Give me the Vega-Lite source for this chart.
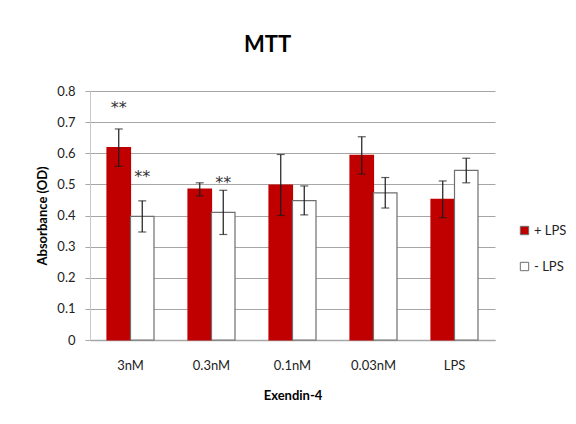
{
  "$schema": "https://vega.github.io/schema/vega-lite/v6.json",
  "autosize": {"type": "none"},
  "width": 405,
  "height": 249,
  "padding": {"left": 90, "top": 91, "right": 81, "bottom": 84},
  "background": "white",
  "config": {
    "font": "Lato",
    "view": {"stroke": null},
    "axis": {"labelFont": "Lato", "titleFont": "Lato", "labelColor": "#222", "titleColor": "#000"},
    "axisY": {
      "titleFontSize": 13,
      "titleFontWeight": "bold",
      "titlePadding": 7,
      "values": [0, 0.1, 0.2, 0.3, 0.4, 0.5, 0.6, 0.7, 0.8],
      "labelOverlap": false,
      "format": "~g",
      "labelFontSize": 13,
      "labelPadding": 10,
      "tickSize": 5,
      "tickColor": "#a6a6a6",
      "domainColor": "#c8c8c8",
      "grid": true,
      "gridColor": "#a6a6a6",
      "gridWidth": 1.2
    }
  },
  "title": {
    "text": "MTT",
    "font": "Lato",
    "fontSize": 22,
    "fontWeight": "bold",
    "color": "#000",
    "anchor": "middle",
    "dx": -25,
    "offset": 28
  },
  "data": {
    "values": [
      {"conc": "3nM", "series": "+ LPS", "mean": 0.618, "lo": 0.558, "hi": 0.678, "star": "**", "star_y": 0.745},
      {"conc": "3nM", "series": "- LPS", "mean": 0.397, "lo": 0.347, "hi": 0.447, "star": "**", "star_y": 0.525},
      {"conc": "0.3nM", "series": "+ LPS", "mean": 0.485, "lo": 0.463, "hi": 0.505, "star": "", "star_y": null},
      {"conc": "0.3nM", "series": "- LPS", "mean": 0.41, "lo": 0.339, "hi": 0.481, "star": "**", "star_y": 0.505},
      {"conc": "0.1nM", "series": "+ LPS", "mean": 0.498, "lo": 0.4, "hi": 0.596, "star": "", "star_y": null},
      {"conc": "0.1nM", "series": "- LPS", "mean": 0.448, "lo": 0.402, "hi": 0.495, "star": "", "star_y": null},
      {"conc": "0.03nM", "series": "+ LPS", "mean": 0.593, "lo": 0.533, "hi": 0.653, "star": "", "star_y": null},
      {"conc": "0.03nM", "series": "- LPS", "mean": 0.473, "lo": 0.424, "hi": 0.522, "star": "", "star_y": null},
      {"conc": "LPS", "series": "+ LPS", "mean": 0.452, "lo": 0.393, "hi": 0.511, "star": "", "star_y": null},
      {"conc": "LPS", "series": "- LPS", "mean": 0.545, "lo": 0.505, "hi": 0.584, "star": "", "star_y": null}
    ]
  },
  "encoding": {
    "x": {
      "field": "conc",
      "type": "nominal",
      "sort": ["3nM", "0.3nM", "0.1nM", "0.03nM", "LPS"],
      "scale": {"paddingInner": 0.42, "paddingOuter": 0.21},
      "axis": {
        "title": "Exendin-4",
        "titleFontSize": 13,
        "titleFontWeight": "bold",
        "titlePadding": 17,
        "labelAngle": 0,
        "labelFontSize": 13,
        "labelPadding": 19,
        "ticks": false,
        "domainColor": "#a6a6a6",
        "domainWidth": 1.5
      }
    },
    "xOffset": {
      "field": "series",
      "type": "nominal",
      "sort": ["+ LPS", "- LPS"],
      "scale": {"paddingInner": 0, "paddingOuter": 0}
    }
  },
  "layer": [
    {
      "mark": {"type": "bar", "strokeWidth": 1.2},
      "encoding": {
        "y": {
          "field": "mean",
          "type": "quantitative",
          "title": "Absorbance (OD)",
          "scale": {"domain": [0, 0.8], "nice": false}
        },
        "fill": {
          "field": "series",
          "type": "nominal",
          "sort": ["+ LPS", "- LPS"],
          "scale": {"range": ["#C00000", "#FFFFFF"]},
          "legend": {
            "title": null,
            "orient": "none",
            "legendX": 428,
            "legendY": 133,
            "symbolType": "square",
            "symbolSize": 70,
            "symbolStrokeColor": "#6f6f6f",
            "symbolStrokeWidth": 1,
            "rowPadding": 22,
            "labelFont": "Lato",
            "labelFontSize": 13,
            "labelColor": "#222",
            "labelOffset": 3
          }
        },
        "stroke": {
          "field": "series",
          "type": "nominal",
          "sort": ["+ LPS", "- LPS"],
          "scale": {"range": ["#C00000", "#6f6f6f"]},
          "legend": null
        }
      }
    },
    {
      "mark": {"type": "rule", "color": "#1a1a1a", "strokeWidth": 1.2},
      "encoding": {
        "y": {"field": "lo", "type": "quantitative", "title": "Absorbance (OD)"},
        "y2": {"field": "hi"}
      }
    },
    {
      "mark": {"type": "tick", "color": "#1a1a1a", "size": 8, "thickness": 1.2},
      "encoding": {"y": {"field": "lo", "type": "quantitative", "title": "Absorbance (OD)"}}
    },
    {
      "mark": {"type": "tick", "color": "#1a1a1a", "size": 8, "thickness": 1.2},
      "encoding": {"y": {"field": "hi", "type": "quantitative", "title": "Absorbance (OD)"}}
    },
    {
      "transform": [{"filter": "datum.star_y != null"}],
      "mark": {"type": "text", "font": "DejaVu Sans", "fontSize": 16, "fill": "#333", "baseline": "middle"},
      "encoding": {
        "y": {"field": "star_y", "type": "quantitative", "title": "Absorbance (OD)"},
        "text": {"field": "star"}
      }
    }
  ]
}
